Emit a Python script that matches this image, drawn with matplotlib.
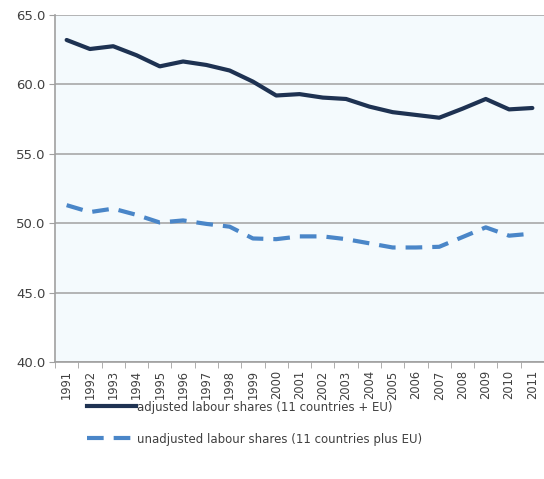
import numpy as np
import matplotlib.pyplot as plt
from matplotlib.lines import Line2D

years = [str(y) for y in range(1991, 2012)]
adjusted = [63.2, 62.55, 62.75, 62.1, 61.3, 61.65, 61.4, 61.0, 60.2, 59.2,
            59.3, 59.05, 58.95, 58.4, 58.0, 57.8, 57.6, 58.25, 58.95, 58.2, 58.3]
unadjusted = [51.3, 50.8, 51.05, 50.6, 50.05, 50.2, 49.95, 49.75, 48.9, 48.85,
              49.05, 49.05, 48.85, 48.55, 48.25, 48.25, 48.3, 49.0, 49.7, 49.1, 49.25]
labels = ["adjusted labour shares (11 countries + EU)",
          "unadjusted labour shares (11 countries plus EU)"]

dark = "#1e3252"
light = "#4a86c8"
grey_text = "#404040"
dash = (0, (4.0, 2.4))

fig = plt.figure(figsize=(5.44, 4.79), dpi=100)
ax = fig.add_axes([55 / 544, 117 / 479, 489 / 544, 347 / 479])
ax.set_facecolor("#f4fafd")

x = np.arange(len(years))
ax.plot(x, adjusted, color=dark, lw=3.0, solid_capstyle="round", zorder=3)
ax.plot(x, unadjusted, color=light, lw=3.0, ls=dash, zorder=3)

ax.set_ylim(40, 65)
ax.set_yticks(np.arange(40, 66, 5))
ax.set_yticklabels([f"{v:.1f}" for v in np.arange(40, 66, 5)], color=grey_text, fontsize=9.5)
ax.set_xlim(-0.5, len(years) - 0.5)
ax.set_xticks(x)
ax.set_xticklabels(years, rotation=90, color=grey_text, fontsize=8.3)
ax.set_xticks(np.arange(-0.5, len(years)), minor=True)
ax.tick_params(axis="x", which="major", length=0, pad=6)
ax.tick_params(axis="x", which="minor", length=4, color="#a0a0a0")
ax.tick_params(axis="y", length=4, color="#a0a0a0", pad=3)

ax.grid(axis="y", color="#a8a8a8", lw=1.2)
ax.set_axisbelow(True)
for side in ["top", "right"]:
    ax.spines[side].set_visible(False)
ax.spines["left"].set_color("#a0a0a0")
ax.spines["bottom"].set_color("#a0a0a0")
ax.spines["left"].set_linewidth(1.2)
ax.spines["bottom"].set_linewidth(1.2)

handles = [Line2D([], [], color=dark, lw=3.0),
           Line2D([], [], color=light, lw=3.0, ls=dash)]
fig.legend(handles, labels, loc="upper left", bbox_to_anchor=(76 / 544, 1 - 390 / 479),
           frameon=False, fontsize=8.5, handlelength=4.2, handletextpad=0.1,
           labelspacing=1.6, labelcolor=grey_text)

fig.savefig("out.png", dpi=100)
